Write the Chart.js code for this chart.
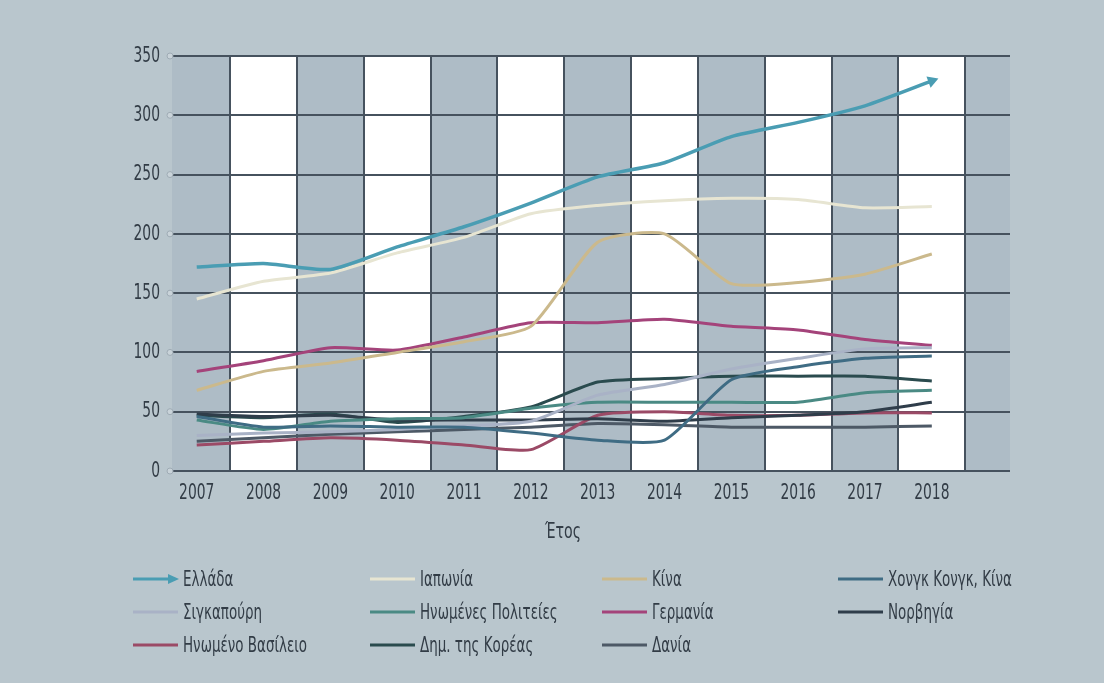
<!DOCTYPE html>
<html>
<head>
<meta charset="utf-8">
<script src="https://cdn.jsdelivr.net/npm/chart.js@4.4.1/dist/chart.umd.min.js"></script>
<style>
  html, body { margin: 0; padding: 0; background: #b9c6cd; }
  #wrap { width: 1104px; height: 683px; }
</style>
</head>
<body>
<div id="wrap"><canvas id="fleetChart" width="1104" height="683"></canvas></div>
<script>
// years and axis ticks
const years = [2007, 2008, 2009, 2010, 2011, 2012, 2013, 2014, 2015, 2016, 2017, 2018];
const yTicks = [0, 50, 100, 150, 200, 250, 300, 350];

// series values
const ellada      = [172, 175, 170, 189, 206, 226, 248, 260, 282, 294, 308, 329];
const iaponia     = [145, 160, 167, 184, 197, 217, 224, 228, 230, 229, 222, 223];
const kina        = [68, 84, 91, 100, 109, 122, 193, 200, 158, 159, 166, 183];
const hongKong    = [46, 37, 38, 37, 37, 32, 26, 26, 77, 88, 95, 97];
const singapouri  = [30, 32, 33, 35, 38, 42, 64, 73, 86, 95, 103, 104];
const ipa         = [43, 35, 42, 44, 45, 53, 58, 58, 58, 58, 66, 68];
const germania    = [84, 93, 104, 102, 113, 125, 125, 128, 122, 119, 111, 106];
const norvigia    = [48, 46, 47, 43, 43, 43, 44, 42, 45, 47, 50, 58];
const inVasileio  = [22, 25, 28, 26, 22, 18, 47, 50, 47, 47, 49, 49];
const korea       = [47, 45, 48, 41, 46, 54, 75, 78, 80, 80, 80, 76];
const dania       = [25, 28, 31, 33, 35, 37, 40, 39, 37, 37, 37, 38];

const labels = ['Ελλάδα', 'Ιαπωνία', 'Κίνα', 'Χονγκ Κονγκ, Κίνα',
                'Σιγκαπούρη', 'Ηνωμένες Πολιτείες', 'Γερμανία', 'Νορβηγία',
                'Ηνωμένο Βασίλειο', 'Δημ. της Κορέας', 'Δανία'];
const values = [ellada, iaponia, kina, hongKong, singapouri, ipa, germania, norvigia, inVasileio, korea, dania];
const colors = ['#4a9db3', '#e7e5d2', '#cbb98c', '#3f6c84', '#a9b2c6', '#4a8a84',
                '#a4437a', '#2f3d4a', '#9b4a66', '#2a4b4e', '#4d5966'];

const FONT = '"DejaVu Sans Condensed", "DejaVu Sans", sans-serif';
const TEXT_COLOR = '#323c46';

function toPoints(arr) {
    return arr.map((v, i) => ({ x: years[i], y: v }));
}

// narrow text: the original uses a tall condensed face
function narrowText(ctx, text, x, y, align, size, sx) {
    ctx.save();
    ctx.translate(x, y);
    ctx.scale(sx, 1);
    ctx.font = size + 'px ' + FONT;
    ctx.textAlign = align;
    ctx.textBaseline = 'middle';
    ctx.fillStyle = TEXT_COLOR;
    ctx.fillText(text, 0, 0);
    ctx.restore();
}

const datasets = values.map((arr, i) => ({
    label: labels[i],
    data: toPoints(arr),
    borderColor: colors[i],
    backgroundColor: colors[i],
    borderWidth: i === 0 ? 3.5 : 3,
    tension: 0.2,
    pointRadius: i === 0 ? (c => c.dataIndex === arr.length - 1 ? 7 : 0) : 0,
    pointStyle: 'triangle',
    pointRotation: 70,
    pointBorderWidth: 0,
    fill: false
}));

// bands, vertical separators, rings at grid line ends, labels and legend
const backdrop = {
    id: 'backdrop',
    beforeDraw(chart) {
        const { ctx, chartArea: a, scales: { x } } = chart;
        ctx.save();
        ctx.fillStyle = '#aebcc6';
        ctx.fillRect(a.left, a.top, a.right - a.left, a.bottom - a.top);
        ctx.fillStyle = '#ffffff';
        years.forEach((yr, i) => {
            if (i % 2 === 1) {
                const l = x.getPixelForValue(yr - 0.5);
                const r = x.getPixelForValue(yr + 0.5);
                ctx.fillRect(l, a.top, r - l, a.bottom - a.top);
            }
        });
        ctx.restore();
    },
    beforeDatasetsDraw(chart) {
        const { ctx, chartArea: a, scales: { x, y } } = chart;
        ctx.save();
        ctx.strokeStyle = '#46525e';
        ctx.lineWidth = 2;
        years.forEach(yr => {
            const px = Math.round(x.getPixelForValue(yr + 0.5));
            ctx.beginPath();
            ctx.moveTo(px, a.top);
            ctx.lineTo(px, a.bottom);
            ctx.stroke();
        });
        yTicks.forEach(t => {
            const py = y.getPixelForValue(t);
            ctx.beginPath();
            ctx.arc(a.left - 2, py, 3, 0, Math.PI * 2);
            ctx.fillStyle = '#c9d3d9';
            ctx.fill();
            ctx.lineWidth = 1;
            ctx.strokeStyle = '#9eabb4';
            ctx.stroke();
        });
        ctx.restore();
    },
    afterDraw(chart) {
        const { ctx, scales: { x, y } } = chart;
        // tick labels
        yTicks.forEach(t => narrowText(ctx, String(t), 160, y.getPixelForValue(t), 'right', 22, 0.7));
        years.forEach(yr => narrowText(ctx, String(yr), x.getPixelForValue(yr), 493, 'center', 22, 0.7));
        // axis title
        narrowText(ctx, 'Έτος', 563, 533, 'center', 21, 0.75);
        // legend in a 4 column grid
        const colX = [133, 370, 602, 838];
        const rowY = [579, 612, 645];
        chart.data.datasets.forEach((ds, i) => {
            const lx = colX[i % 4];
            const ly = rowY[Math.floor(i / 4)];
            ctx.save();
            ctx.strokeStyle = ds.borderColor;
            ctx.lineWidth = 3;
            ctx.beginPath();
            ctx.moveTo(lx, ly);
            ctx.lineTo(i === 0 ? lx + 36 : lx + 45, ly);
            ctx.stroke();
            if (i === 0) {
                ctx.fillStyle = ds.borderColor;
                ctx.beginPath();
                ctx.moveTo(lx + 46, ly);
                ctx.lineTo(lx + 35, ly - 5);
                ctx.lineTo(lx + 35, ly + 5);
                ctx.closePath();
                ctx.fill();
            }
            ctx.restore();
            narrowText(ctx, ds.label, lx + 50, ly + 1, 'left', 22, 0.68);
        });
    }
};

new Chart(document.getElementById('fleetChart'), {
    type: 'line',
    data: { datasets: datasets },
    options: {
        responsive: false,
        animation: false,
        layout: { padding: { left: 0, right: 94, top: 56, bottom: 137 } },
        plugins: {
            legend: { display: false },
            tooltip: { enabled: false }
        },
        scales: {
            x: {
                type: 'linear',
                min: 2006.63,
                max: 2019.17,
                afterBuildTicks: axis => { axis.ticks = years.map(v => ({ value: v })); },
                afterFit: axis => { axis.height = 75; },
                grid: { display: false, drawTicks: false },
                border: { display: false },
                ticks: { display: false }
            },
            y: {
                min: 0,
                max: 350,
                afterBuildTicks: axis => { axis.ticks = yTicks.map(v => ({ value: v })); },
                afterFit: axis => { axis.width = 172; },
                grid: { color: '#46525e', lineWidth: 2, drawTicks: false },
                border: { display: false },
                ticks: { display: false }
            }
        }
    },
    plugins: [backdrop]
});
</script>
</body>
</html>
